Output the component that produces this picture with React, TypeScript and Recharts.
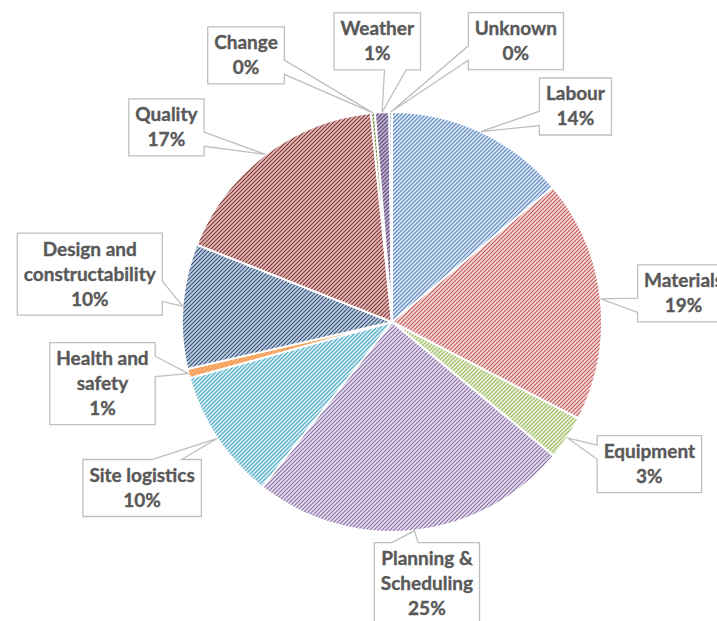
import React from 'react'
import { Cell, Pie, PieChart } from 'recharts'

const categories = [
    'Labour',
    'Materials',
    'Equipment',
    'Planning & Scheduling',
    'Site logistics',
    'Health and safety',
    'Design and constructability',
    'Quality',
    'Change',
    'Weather',
    'Unknown',
]
const shares = [13.9, 18.7, 3.4, 24.6, 10.1, 0.7, 9.6, 17.4, 0.3, 1.1, 0.2]

const stripeColors = ['#5a88c4', '#c85a57', '#9bbb59', '#8a6fab', '#4bacc6', '#f79646', '#34567f', '#853634', '#5f7530', '#5a4772', '#276a7c']
const backColors = ['#dce6f2', '#f2dcdb', '#ebf1de', '#e6e0ec', '#dbeef4', '#f9b27a', '#c3cfe0', '#e2bcbb', '#c9d8a7', '#c0b2d2', '#b7dde8']

// callout box centres, polar from the pie centre (deg clockwise from 12 o'clock, px)
const labelAngles = [40.4, 84.4, 118.9, 172.4, 236.4, 258.0, 279.0, 310.8, 331.3, 357.0, 23.8]
const labelRadii = [283, 293, 294, 264, 300, 296, 306, 298, 304, 281, 307]

const data = categories.map((name, i) => ({ name, value: shares[i] }))

const FONT = 'bold 19px Lato'
const RAD = Math.PI / 180

let ctx: CanvasRenderingContext2D | null = null
const measure = (s: string) => {
    if (!ctx) ctx = document.createElement('canvas').getContext('2d')
    if (!ctx) return s.length * 9.5
    ctx.font = FONT
    return ctx.measureText(s).width
}

const wrap = (text: string, max: number) => {
    const lines: string[] = []
    let cur = ''
    text.split(' ').forEach(w => {
        const next = cur ? cur + ' ' + w : w
        if (cur && measure(next) > max) {
            lines.push(cur)
            cur = w
        } else cur = next
    })
    if (cur) lines.push(cur)
    return lines
}

// rectangle with a wedge pointing at (tx, ty), like Excel's wedgeRectCallout
const calloutPath = (x: number, y: number, w: number, h: number, tx: number, ty: number) => {
    const dx = tx - (x + w / 2)
    const dy = ty - (y + h / 2)
    const r = x + w
    const b = y + h
    let top = ''
    let right = ''
    let bottom = ''
    let left = ''
    if (Math.abs(dx) / w > Math.abs(dy) / h) {
        const y1 = y + (h * (dy > 0 ? 7 : 2)) / 12
        const y2 = y1 + h / 4
        if (dx > 0) right = `L${r},${y1} L${tx},${ty} L${r},${y2} `
        else left = `L${x},${y2} L${tx},${ty} L${x},${y1} `
    } else {
        const x1 = x + (w * (dx > 0 ? 7 : 2)) / 12
        const x2 = x1 + w / 4
        if (dy < 0) top = `L${x1},${y} L${tx},${ty} L${x2},${y} `
        else bottom = `L${x2},${b} L${tx},${ty} L${x1},${b} `
    }
    return `M${x},${y} ${top}L${r},${y} ${right}L${r},${b} ${bottom}L${x},${b} ${left}Z`
}

const renderLabel = (props: any) => {
    const { cx, cy, midAngle, outerRadius, index, percent, name } = props
    const tx = cx + outerRadius * Math.cos(-midAngle * RAD)
    const ty = cy + outerRadius * Math.sin(-midAngle * RAD)
    const a = labelAngles[index] * RAD
    const bx = cx + labelRadii[index] * Math.sin(a)
    const by = cy - labelRadii[index] * Math.cos(a)
    const lines = [...wrap(name, 120), `${Math.round(percent * 100)}%`]
    const w = Math.max(...lines.map(measure)) + 13
    const h = lines.length * 25 + 7
    return (
        <g>
            <path d={calloutPath(bx - w / 2, by - h / 2, w, h, tx, ty)} fill="#fff" stroke="#bfbfbf" strokeWidth={1.3} />
            <text textAnchor="middle" fill="#595959" stroke="#595959" strokeWidth={0.35} style={{ font: FONT }}>
                {lines.map((l, i) => (
                    <tspan key={i} x={bx} y={by - (lines.length - 1) * 12.5 + i * 25 + 6.5}>
                        {l}
                    </tspan>
                ))}
            </text>
        </g>
    )
}

const App = () => {
    return (
        <div style={{ position: 'absolute', left: 0, top: 0, background: '#fff' }}>
            <PieChart width={717} height={621}>
                <defs>
                    {stripeColors.map((c, i) => (
                        <pattern key={i} id={`stripe${i}`} width={4} height={4} patternUnits="userSpaceOnUse">
                            <rect width={4} height={4} fill={backColors[i]} />
                            <path d="M-1,1 L1,-1 M0,4 L4,0 M3,5 L5,3" stroke={c} strokeWidth={1.15} />
                        </pattern>
                    ))}
                </defs>
                <Pie
                    data={data}
                    dataKey="value"
                    nameKey="name"
                    cx={387}
                    cy={317}
                    outerRadius={210}
                    startAngle={90}
                    endAngle={-270}
                    stroke="#fff"
                    strokeWidth={2}
                    label={renderLabel}
                    labelLine={false}
                    isAnimationActive={false}
                >
                    {data.map((d, i) => (
                        <Cell key={d.name} fill={`url(#stripe${i})`} />
                    ))}
                </Pie>
            </PieChart>
        </div>
    )
}

export default App
